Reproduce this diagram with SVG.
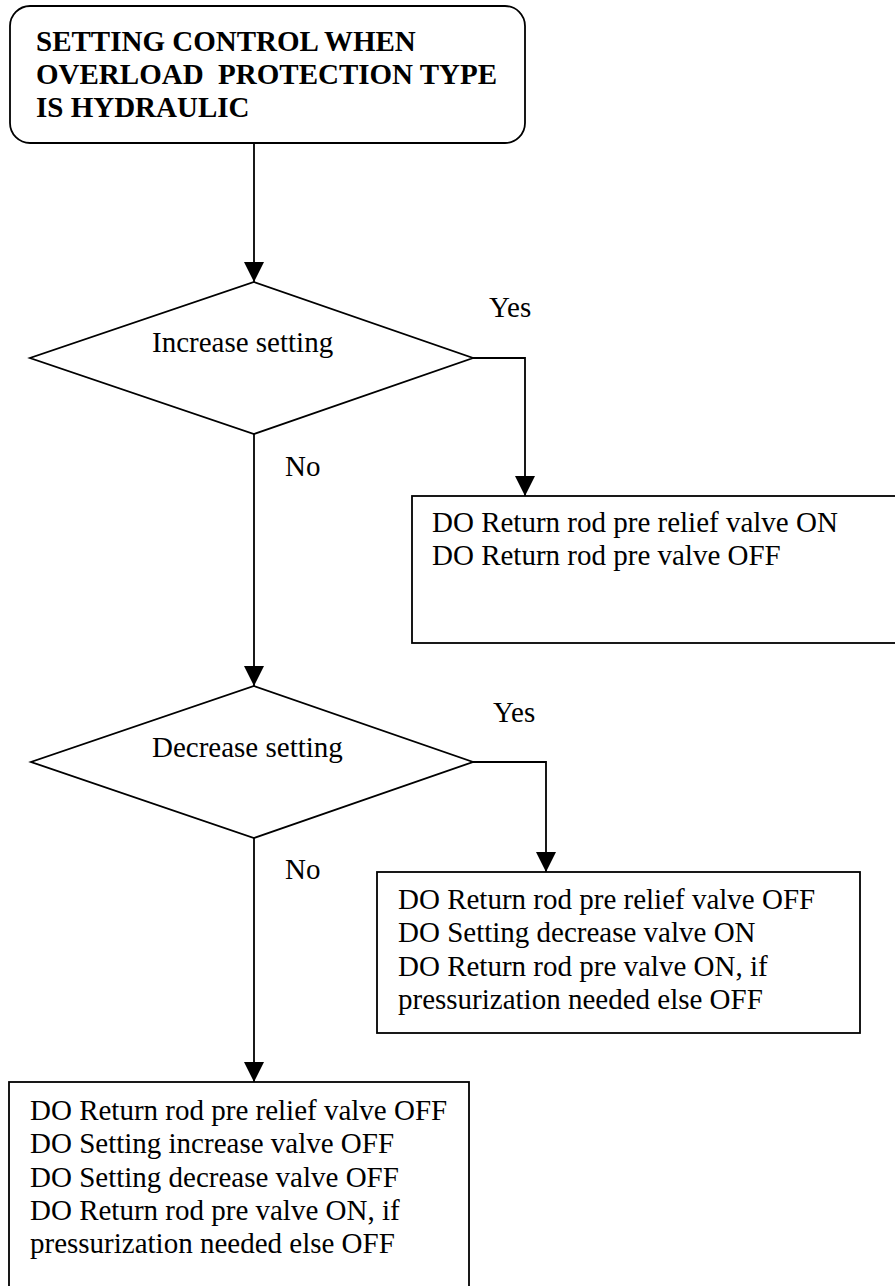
<svg xmlns="http://www.w3.org/2000/svg" width="895" height="1286" viewBox="0 0 895 1286">
<style>
.shape{fill:#fff;stroke:#000;stroke-width:1.8}
.conn{fill:none;stroke:#000;stroke-width:1.8}
.t{font-family:"Liberation Serif","Times New Roman",serif;font-size:29px;fill:#000}
.b{font-weight:bold;white-space:pre}
</style>
<defs>
<marker id="arr" markerUnits="userSpaceOnUse" markerWidth="20" markerHeight="20" refX="20" refY="10" orient="auto" viewBox="0 0 20 20">
<path d="M0,0 L20,10 L0,20 z" fill="#000"/>
</marker>
</defs>
<rect width="895" height="1286" fill="#fff"/>
<g id="connectors">
<line class="conn" x1="254" y1="143" x2="254" y2="282" marker-end="url(#arr)"/>
<polyline class="conn" points="473,358 525,358 525,496" marker-end="url(#arr)"/>
<line class="conn" x1="254" y1="434" x2="254" y2="686" marker-end="url(#arr)"/>
<polyline class="conn" points="473,762 546,762 546,872" marker-end="url(#arr)"/>
<line class="conn" x1="254" y1="838" x2="254" y2="1082" marker-end="url(#arr)"/>
</g>
<g id="start">
<rect class="shape" x="10" y="6" width="515" height="137" rx="20" ry="20"/>
<text class="t b" x="36" y="51">SETTING CONTROL WHEN</text>
<text class="t b" x="36" y="84" xml:space="preserve">OVERLOAD  PROTECTION TYPE</text>
<text class="t b" x="36" y="117">IS HYDRAULIC</text>
</g>
<g id="decision1">
<polygon class="shape" points="254,282 473,358 254,434 30,358"/>
<text class="t" x="152" y="352">Increase setting</text>
</g>
<g id="label-yes1"><text class="t" x="489" y="317">Yes</text></g>
<g id="label-no1"><text class="t" x="285" y="476">No</text></g>
<g id="box-increase">
<rect class="shape" x="412" y="496" width="490" height="147"/>
<text class="t" x="432" y="532">DO Return rod pre relief valve ON</text>
<text class="t" x="432" y="565">DO Return rod pre valve OFF</text>
</g>
<g id="decision2">
<polygon class="shape" points="254,686 473,762 254,838 31,762"/>
<text class="t" x="152" y="757">Decrease setting</text>
</g>
<g id="label-yes2"><text class="t" x="493" y="722">Yes</text></g>
<g id="label-no2"><text class="t" x="285" y="879">No</text></g>
<g id="box-decrease">
<rect class="shape" x="377" y="872" width="483" height="161"/>
<text class="t" x="398" y="909">DO Return rod pre relief valve OFF</text>
<text class="t" x="398" y="942">DO Setting decrease valve ON</text>
<text class="t" x="398" y="976">DO Return rod pre valve ON, if</text>
<text class="t" x="398" y="1009">pressurization needed else OFF</text>
</g>
<g id="box-none">
<rect class="shape" x="9" y="1082" width="460" height="220"/>
<text class="t" x="30" y="1120">DO Return rod pre relief valve OFF</text>
<text class="t" x="30" y="1153">DO Setting increase valve OFF</text>
<text class="t" x="30" y="1187">DO Setting decrease valve OFF</text>
<text class="t" x="30" y="1220">DO Return rod pre valve ON, if</text>
<text class="t" x="30" y="1253">pressurization needed else OFF</text>
</g>
</svg>
